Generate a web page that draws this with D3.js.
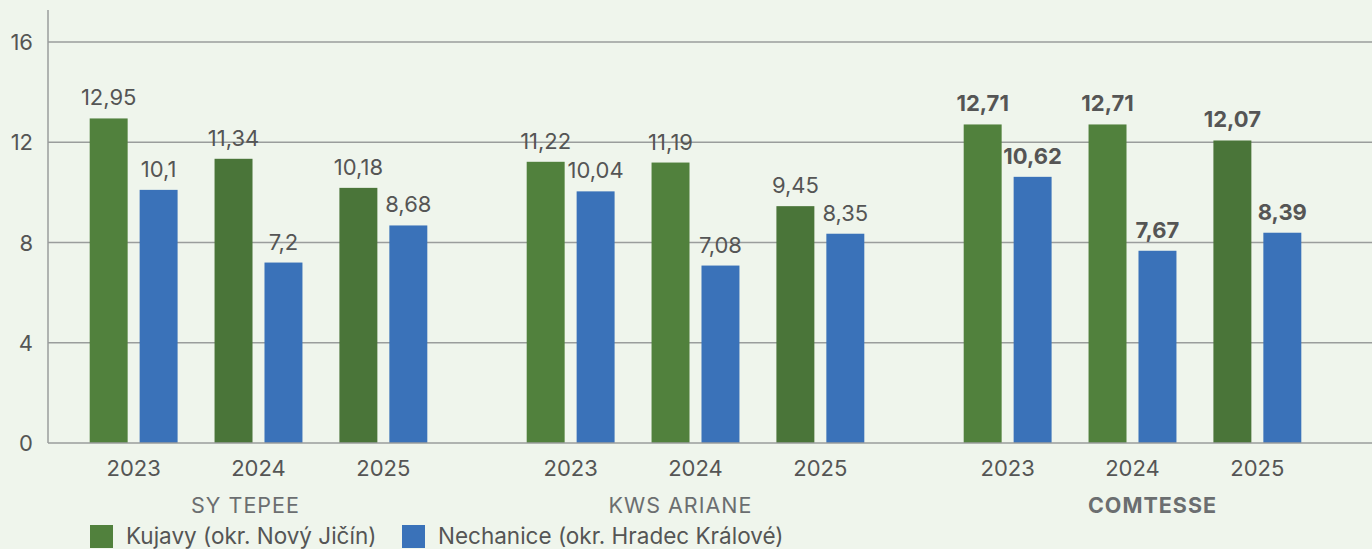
<!DOCTYPE html>
<html>
<head>
<meta charset="utf-8">
<script src="https://cdn.jsdelivr.net/npm/d3@7"></script>
<style>
	html, body { margin: 0; padding: 0; background: #eff5ec; }
	svg { display: block; font-family: Inter, "DejaVu Sans", sans-serif; }
	.tick-lbl { fill: #555; font-size: 22px; }
	.val { fill: #555; font-size: 22px; }
	.grp { fill: #6b6e70; font-size: 21.5px; letter-spacing: 1px; }
	.leg { fill: #555; font-size: 22.5px; }
</style>
</head>
<body>
<svg id="chart" width="1372" height="549"></svg>
<script>
/* Datos */
const groups = ["SY TEPEE", "KWS ARIANE", "COMTESSE"];
const years = ["2023", "2024", "2025"];
const series = ["Kujavy (okr. Nový Jičín)", "Nechanice (okr. Hradec Králové)"];
const kujavy = [
	[12.95, 11.34, 10.18],
	[11.22, 11.19, 9.45],
	[12.71, 12.71, 12.07]
];
const nechanice = [
	[10.1, 7.2, 8.68],
	[10.04, 7.08, 8.35],
	[10.62, 7.67, 8.39]
];
const yTicks = [0, 4, 8, 12, 16];

/* Estilos */
const colBlue = "#3a72b9";
const colGreen = "#51813d";
const colGreenDark = "#4a7539";
const darkGreen = { "SY TEPEE": ["2024", "2025"], "KWS ARIANE": ["2025"], "COMTESSE": ["2025"] };
const boldGroup = "COMTESSE";
const grpNudge = { "SY TEPEE": -13, "KWS ARIANE": -15, "COMTESSE": 20 };
const fmt = v => String(v).replace(".", ",");

const svg = d3.select("#chart");
const M = { top: 42, left: 48, bottom: 443 };

const y = d3.scaleLinear().domain([0, 16]).range([M.bottom, M.top]);
const xGroup = d3.scaleBand().domain(groups).range([40, 1351]);
const xYear = d3.scaleBand().domain(years).range([0, xGroup.bandwidth()]).paddingOuter(0.25);
const xSer = d3.scaleBand().domain([0, 1]).range([0, xYear.bandwidth()]).paddingInner(0.24).paddingOuter(0.37);

// gridlines
svg.append("g").selectAll("line").data(yTicks.filter(t => t > 0)).join("line")
	.attr("x1", M.left).attr("x2", 1372)
	.attr("y1", d => y(d)).attr("y2", d => y(d))
	.attr("stroke", "#9a9d9c").attr("stroke-width", 1.5);

svg.append("g").selectAll("text").data(yTicks).join("text")
	.attr("class", "tick-lbl")
	.attr("x", 33).attr("y", d => y(d) + 8)
	.attr("text-anchor", "end")
	.text(d => d);

// filas de barras
const rows = [];
groups.forEach((g, gi) => {
	years.forEach((yr, yi) => {
		rows.push({ g, yr, s: 0, v: kujavy[gi][yi] });
		rows.push({ g, yr, s: 1, v: nechanice[gi][yi] });
	});
});
const bx = d => xGroup(d.g) + xYear(d.yr) + xSer(d.s);

svg.append("g").selectAll("rect").data(rows).join("rect")
	.attr("x", bx)
	.attr("y", d => y(d.v))
	.attr("width", xSer.bandwidth())
	.attr("height", d => y(0) - y(d.v))
	.attr("fill", d => d.s === 1 ? colBlue : (darkGreen[d.g].includes(d.yr) ? colGreenDark : colGreen));

svg.append("g").selectAll("text").data(rows).join("text")
	.attr("class", "val")
	.attr("x", d => bx(d) + xSer.bandwidth() / 2)
	.attr("y", d => y(d.v) - 13)
	.attr("text-anchor", "middle")
	.attr("font-weight", d => d.g === boldGroup ? 700 : 400)
	.text(d => fmt(d.v));

// ejes
svg.append("line").attr("x1", M.left).attr("x2", M.left).attr("y1", 10).attr("y2", M.bottom)
	.attr("stroke", "#9a9d9c").attr("stroke-width", 1.5);
svg.append("line").attr("x1", M.left).attr("x2", 1372).attr("y1", M.bottom).attr("y2", M.bottom)
	.attr("stroke", "#9a9d9c").attr("stroke-width", 1.5);

// etiquetas de años
groups.forEach(g => {
	svg.append("g").selectAll("text").data(years).join("text")
		.attr("class", "tick-lbl")
		.attr("x", d => xGroup(g) + xYear(d) + xYear.bandwidth() / 2)
		.attr("y", 476)
		.attr("text-anchor", "middle")
		.text(d => d);
});

svg.append("g").selectAll("text").data(groups).join("text")
	.attr("class", "grp")
	.attr("x", d => xGroup(d) + xGroup.bandwidth() / 2 + grpNudge[d])
	.attr("y", 513)
	.attr("text-anchor", "middle")
	.attr("font-weight", d => d === boldGroup ? 700 : 400)
	.text(d => d);

// leyenda
const legX = [90, 402];
const leg = svg.append("g").selectAll("g").data(series).join("g")
	.attr("transform", (d, i) => `translate(${legX[i]},525)`);
leg.append("rect").attr("width", 23).attr("height", 23)
	.attr("fill", (d, i) => i === 0 ? colGreen : colBlue);
leg.append("text").attr("class", "leg").attr("x", 36).attr("y", 19).text(d => d);
</script>
</body>
</html>
